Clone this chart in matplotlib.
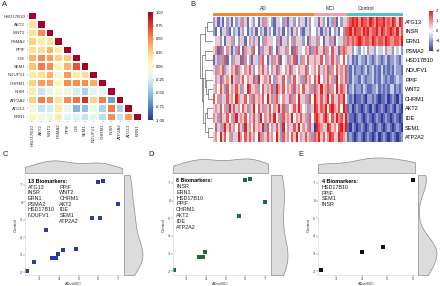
import numpy as np
import matplotlib
matplotlib.use('Agg')
import matplotlib.pyplot as plt
from matplotlib.colors import LinearSegmentedColormap, Normalize
from matplotlib.cm import ScalarMappable

plt.rcParams['font.family'] = ['Liberation Sans', 'DejaVu Sans']

# ---------------- Panel A data (correlation, lower triangle) ----------------
genes_a = ['HSD17B10', 'AKT2', 'WNT2', 'PSMA2', 'PPIF', 'IDE', 'SEM1', 'NDUFV1',
           'CHRM1', 'INSR', 'ATP2A2', 'ATG13', 'ERN1']
corr_rows = [
    [0.18],
    [0.18, 0.50],
    [0.25, 0.12, 0.18],
    [0.18, 0.20, 0.38, 0.12],
    [0.38, 0.50, 0.45, 0.25, 0.28],
    [0.32, 0.55, 0.50, 0.08, 0.38, 0.68],
    [0.12, 0.20, 0.38, -0.08, 0.45, 0.12, 0.20],
    [0.25, 0.45, 0.45, 0.06, 0.50, 0.50, 0.50, 0.40],
    [0.12, -0.30, -0.15, -0.05, -0.10, -0.25, -0.42, -0.20, -0.15],
    [0.25, 0.55, 0.50, 0.18, 0.50, 0.60, 0.80, 0.25, 0.55, -0.62],
    [-0.12, -0.30, -0.25, 0.12, -0.15, -0.55, -0.50, -0.10, -0.42, 0.55, -0.42],
    [0.06, -0.10, -0.10, 0.12, -0.20, -0.20, -0.30, -0.15, -0.35, 0.50, -0.30, 0.45],
]
cbar_a_ticks = [1.0, 0.75, 0.5, 0.25, 0.0, -0.25, -0.5, -0.75, -1.0]

# ---------------- Panel B data (z-scores, levels 0..8 -> -2..2) ----------------
genes_b = ['ATG13', 'INSR', 'ERN1', 'PSMA2', 'HSD17B10', 'NDUFV1', 'PPIF', 'WNT2',
           'CHRM1', 'AKT2', 'IDE', 'SEM1', 'ATP2A2']
groups_b = ['AD', 'MCI', 'Control']
ad_cells = [
    "25131 42514 23625 14324 15263 42153 42613 52425 31524",
    "21413 52142 31524 13251 42315 24132 51423 15242 13524",
    "43524 15362 42531 46325 14263 53426 15324 62535 24163",
    "56172 46315 27416 35274 16253 72416 35264 17253 46372",
    "15262 71426 35172 46153 26741 52637 14526 37152 64735",
    "52637 25463 72546 37524 63752 46372 54637 25463 57245",
    "46372 56483 62574 65372 84563 74265 37462 57436 27564",
    "36475 27463 75264 87356 24736 57286 37465 27364 73562",
    "74625 37564 86357 46275 63748 52673 46357 26485 36274",
    "56374 62857 36475 26384 75263 74658 37264 57386 45263",
    "65273 57462 83657 46375 28463 75846 27563 84657 36274",
    "47362 85736 47528 36475 63827 46375 28463 57384 65273",
    "56483 74625 38647 57364 82657 36485 27364 75846 37562",
]
mci_cells = [
    "35152 41326 14253",
    "42513 25142 31427",
    "52641 35261 43526",
    "67357 26473 51676",
    "63574 26375 26474",
    "64736 57264 73657",
    "75846 37562 84637",
    "76385 67264 83765",
    "86573 68475 37684",
    "87576 84786 57487",
    "78657 86475 86758",
    "08765 38756 47868",
    "76857 46875 38765",
]
ctrl_cells = [
    "67878 68776 87687 78676 87587",
    "78687 76878 67786 87678 76857",
    "76767 87677 68767 76876 67768",
    "35243 24342 53243 34253 24342",
    "23121 32213 21232 12312 23213",
    "21312 21231 23121 31212 13221",
    "21322 13212 23121 32121 12322",
    "12312 21321 12231 21213 31212",
    "21201 12102 21210 11201 21021",
    "12012 10121 02101 21012 10210",
    "21101 21012 10121 01210 12101",
    "10210 12101 21012 10121 01210",
    "12101 21012 10120 12101 21012",
]
# dendrogram merges: (left node, right node, height); leaves 0..12, new nodes 13..
dendro_merges = [
    (0, 1, 0.45), (13, 2, 0.60), (3, 4, 0.60), (7, 8, 0.40), (6, 16, 0.55),
    (5, 17, 0.65), (9, 10, 0.45), (11, 12, 0.35), (19, 20, 0.60), (18, 21, 0.75),
    (15, 22, 0.85), (14, 23, 1.00),
]
cbar_b_ticks = [2, 1, 0, -1, -2]

# ---------------- Panels C/D/E data ----------------
c_x = [2.38, 2.73, 3.34, 3.67, 3.86, 3.97, 4.20, 4.86, 5.67, 6.09, 6.00, 6.24, 7.00]
c_y = [2.10, 2.60, 4.44, 2.84, 2.84, 3.07, 3.25, 3.35, 5.10, 5.10, 7.15, 7.24, 5.90]
c_col1 = ['ATG13', 'INSR', 'ERN1', 'PSMA2', 'HSD17B10', 'NDUFV1']
c_col2 = ['PPIF', 'WNT2', 'CHRM1', 'AKT2', 'IDE', 'SEM1', 'ATP2A2']
d_x = [2.38, 3.67, 3.86, 3.97, 5.67, 6.00, 6.24, 7.00]
d_y = [2.10, 2.84, 2.84, 3.07, 5.10, 7.15, 7.24, 5.90]
d_col1 = ['INSR', 'ERN1', 'HSD17B10', 'PPIF', 'CHRM1', 'AKT2', 'IDE', 'ATP2A2']
e_x = [2.40, 4.00, 4.85, 6.00]
e_y = [2.10, 3.10, 3.40, 7.17]
e_col1 = ['HSD17B10', 'PPIF', 'SEM1', 'INSR']

W, H = 440, 286
fig = plt.figure(figsize=(W / 100, H / 100), dpi=100)


def ax_px(x0, y0, x1, y1):
    return fig.add_axes([x0 / W, 1 - y1 / H, (x1 - x0) / W, (y1 - y0) / H])


def txt(x, y, s, **kw):
    fig.text(x / W, 1 - y / H, s, **kw)


# ---------------- Panel A ----------------
n = len(genes_a)
M = np.full((n, n), np.nan)
for i, row in enumerate(corr_rows):
    for j, v in enumerate(row):
        M[i + 1, j] = v
for i in range(n):
    M[i, i] = 1.0
axA = ax_px(28, 12, 142, 121)
axA.pcolormesh(np.arange(n + 1), np.arange(n + 1), np.ma.masked_invalid(M),
               cmap='RdYlBu_r', vmin=-1, vmax=1, edgecolors='white', linewidth=0.35)
axA.set_xlim(0, n)
axA.set_ylim(n, 0)
axA.set_xticks(np.arange(n) + 0.5)
axA.set_xticklabels(genes_a, rotation=90, fontsize=3.2)
axA.set_yticks(np.arange(n) + 0.5)
axA.set_yticklabels(genes_a, fontsize=3.2)
axA.tick_params(length=1, width=0.3, pad=1, colors='#333333')
for s in axA.spines.values():
    s.set_visible(False)

caxA = ax_px(148, 12, 153, 120)
cbA = fig.colorbar(ScalarMappable(Normalize(-1, 1), 'RdYlBu_r'), cax=caxA)
cbA.set_ticks(cbar_a_ticks)
cbA.set_ticklabels(['%.2f' % t for t in cbar_a_ticks])
cbA.ax.tick_params(labelsize=2.8, length=1, width=0.3, pad=1)
cbA.outline.set_visible(False)

# ---------------- Panel B ----------------
cmapB = LinearSegmentedColormap.from_list('bwr2', ['#2d3c9c', '#ffffff', '#e31f1f'])


def decode(s):
    return [(int(c) - 4) / 2 for c in s.replace(' ', '')]


data_b = np.array([decode(a) + decode(m) + decode(c)
                   for a, m, c in zip(ad_cells, mci_cells, ctrl_cells)])
nr, nc = data_b.shape
n_ad = len(ad_cells[0].replace(' ', ''))
n_mci = len(mci_cells[0].replace(' ', ''))
n_ct = len(ctrl_cells[0].replace(' ', ''))

axB = ax_px(213, 17, 403, 142)
axB.pcolormesh(data_b, cmap=cmapB, vmin=-2, vmax=2)
axB.set_xlim(0, nc)
axB.set_ylim(nr, 0)
axB.set_xticks([])
axB.yaxis.tick_right()
axB.set_yticks(np.arange(nr) + 0.5)
axB.set_yticklabels(genes_b, fontsize=4)
axB.tick_params(axis='y', length=0, pad=1.5)
for s in axB.spines.values():
    s.set_visible(False)

axAnn = ax_px(213, 13, 403, 16)
grp_colors = ['#f08a30', '#f2a2a6', '#4fc2cb']
bounds = [0, n_ad, n_ad + n_mci, nc]
for k in range(3):
    axAnn.axvspan(bounds[k], bounds[k + 1], color=grp_colors[k], lw=0)
axAnn.set_xlim(0, nc)
axAnn.axis('off')
for k, g in enumerate(groups_b):
    axAnn.text((bounds[k] + bounds[k + 1]) / 2 - (4 if g == 'Control' else 0), 1.6, g,
               ha='center', va='bottom', fontsize=3.6, color='#222222',
               transform=axAnn.get_xaxis_transform())

axD = ax_px(200, 17, 213, 142)
pos = {i: (0.0, i + 0.5) for i in range(nr)}
for k, (l, r, h) in enumerate(dendro_merges):
    xl, yl = pos[l]
    xr, yr = pos[r]
    axD.plot([xl, h, h, xr], [yl, yl, yr, yr], color='#555555', lw=0.45)
    pos[nr + k] = (h, (yl + yr) / 2)
axD.set_xlim(1.0, 0)
axD.set_ylim(nr, 0)
axD.axis('off')

caxB = ax_px(429, 11, 433, 51)
cbB = fig.colorbar(ScalarMappable(Normalize(-2, 2), cmapB), cax=caxB)
cbB.set_ticks(cbar_b_ticks)
cbB.ax.tick_params(labelsize=2.8, length=1, width=0.3, pad=0.8)
cbB.outline.set_visible(False)

# ---------------- Panels C, D, E ----------------


def kde(vals, grid):
    v = np.asarray(vals, float)
    iqr = np.subtract(*np.percentile(v, [75, 25]))
    bw = 0.9 * min(v.std(ddof=1), iqr / 1.34) * len(v) ** -0.2
    z = (grid[:, None] - v[None, :]) / bw
    return np.exp(-0.5 * z ** 2).sum(1) / (len(v) * bw * np.sqrt(2 * np.pi))


def scatter_panel(main, top, right, xs, ys, color, xlim, ylim, xticks):
    ax = ax_px(*main)
    ax.scatter(xs, ys, s=5, color=color, marker='s', lw=0)
    ax.set_xlim(*xlim)
    ax.set_ylim(*ylim)
    ax.set_xticks(xticks)
    ax.set_yticks([2, 3, 4, 5, 6, 7])
    ax.tick_params(labelsize=3, length=1.2, width=0.3, pad=0.6, colors='#444444')
    for s in ['top', 'right']:
        ax.spines[s].set_visible(False)
    for s in ['left', 'bottom']:
        ax.spines[s].set_color('#d5d5d5')
        ax.spines[s].set_linewidth(0.4)
    ax.set_xlabel('ADvsMCI', fontsize=2.8, labelpad=0.2, color='#333333')
    ax.set_ylabel('Control', fontsize=3.2, labelpad=2, color='#333333')

    at = ax_px(*top)
    gx = np.linspace(xlim[0], xlim[1], 200)
    dx = kde(xs, gx)
    at.fill_between(gx, 0, dx, facecolor='#dcdcdc', edgecolor='#8a8a8a', lw=0.5)
    at.set_xlim(*xlim)
    at.set_ylim(0, dx.max() * 1.03)
    at.axis('off')

    ar = ax_px(*right)
    gy = np.linspace(ylim[0], ylim[1], 200)
    dy = kde(ys, gy)
    ar.fill_betweenx(gy, 0, dy, facecolor='#dcdcdc', edgecolor='#8a8a8a', lw=0.5)
    ar.set_ylim(*ylim)
    ar.set_xlim(0, dy.max() * 1.03)
    ar.axis('off')


scatter_panel((25, 175, 122, 275), (25, 160, 122, 173), (124, 175, 143, 275),
              c_x, c_y, '#2a3a9e', (2.29, 7.2), (1.85, 7.56), [3, 4, 5, 6, 7])
scatter_panel((173, 175, 268, 275), (173, 158, 268, 173), (271, 175, 288, 275),
              d_x, d_y, '#1c6b3c', (2.34, 7.15), (1.8, 7.44), [3, 4, 5, 6, 7])
scatter_panel((318, 175, 415, 275), (318, 157, 415, 173), (418, 175, 437, 275),
              e_x, e_y, '#111111', (2.3, 6.08), (1.8, 7.44), [3, 4, 5, 6])

fs = 3.9
step = 5.65
txt(28, 181.7, '13 Biomarkers:', fontsize=fs, fontweight='bold', va='center')
for i, g in enumerate(c_col1):
    txt(28, 187.3 + i * step, g, fontsize=fs, va='center', color='#222222')
for i, g in enumerate(c_col2):
    txt(59.3, 187.3 + i * step, g, fontsize=fs, va='center', color='#222222')

txt(176, 180.7, '8 Biomarkers:', fontsize=fs, fontweight='bold', va='center')
for i, g in enumerate(d_col1):
    txt(176, 186.5 + i * 5.8, g, fontsize=fs, va='center', color='#222222')

txt(321.7, 181.7, '4 Biomarkers:', fontsize=fs, fontweight='bold', va='center')
for i, g in enumerate(e_col1):
    txt(321.7, 187.3 + i * 5.8, g, fontsize=fs, va='center', color='#222222')

# panel letters
for lab, x, y in [('A', 2, 5), ('B', 190, 5), ('C', 3, 154), ('D', 148, 155), ('E', 298, 155)]:
    txt(x, y, lab, fontsize=5.5, va='center', color='#222222')

fig.savefig('out.png', dpi=100)
